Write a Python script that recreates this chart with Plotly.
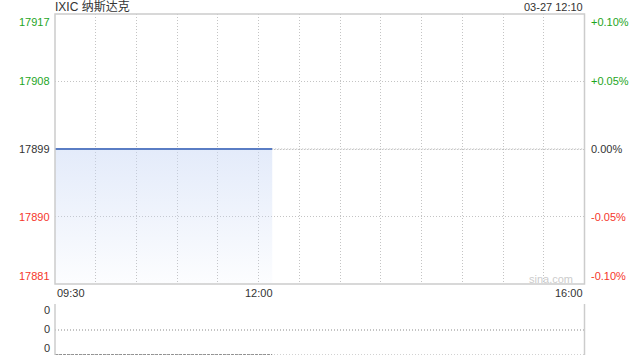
import plotly.graph_objects as go

# ---- data ----
title_text = "IXIC 纳斯达克"
stamp_text = "03-27 12:10"
prev_close = 17899
times = ["09:30", "10:00", "10:30", "11:00", "11:30", "12:00", "12:10"]
prices = [17899, 17899, 17899, 17899, 17899, 17899, 17899]
volumes = [0, 0, 0, 0, 0, 0, 0]
price_ticks = [17917, 17908, 17899, 17890, 17881]
pct_ticks = ["+0.10%", "+0.05%", "0.00%", "-0.05%", "-0.10%"]
x_labels = ["09:30", "12:00", "16:00"]
vol_ticks = ["0", "0", "0"]

def minutes(t):
    h, m = t.split(":")
    return (int(h) * 60 + int(m)) - (9 * 60 + 30)

xs = [minutes(t) for t in times]
x_lab_pos = [minutes(t) for t in x_labels]
END = minutes("16:00")

FONT = "Liberation Sans, Arial, Noto Sans CJK SC, sans-serif"
GREEN = "#1ea51e"
RED = "#f5362a"
DARK = "#333333"
GRID = "#c4c4c4"
GDASH = "1px,2px"

ymin, ymax = min(price_ticks), max(price_ticks)

fig = go.Figure()

# baseline for gradient fill
fig.add_trace(go.Scatter(x=[xs[0], xs[-1]], y=[ymin, ymin], mode="lines",
                         line=dict(width=0), hoverinfo="skip", showlegend=False,
                         xaxis="x", yaxis="y"))
fig.add_trace(go.Scatter(x=xs, y=prices, mode="lines", fill="tonexty",
                         fillgradient=dict(type="vertical", start=ymin, stop=prev_close,
                                           colorscale=[[0, "rgba(200,215,245,0.05)"],
                                                       [1, "rgba(200,215,245,0.5)"]]),
                         line=dict(color="#5a7dc4", width=2), showlegend=False,
                         xaxis="x", yaxis="y"))
# previous close dotted line
fig.add_trace(go.Scatter(x=[xs[-1], END], y=[prev_close, prev_close], mode="lines",
                         line=dict(color="#b0b0b0", width=1, dash=GDASH), showlegend=False,
                         hoverinfo="skip", xaxis="x", yaxis="y"))
# volume
fig.add_trace(go.Scatter(x=xs, y=volumes, mode="lines",
                         line=dict(color="#777777", width=1.5, dash="3px,1px"), showlegend=False,
                         xaxis="x2", yaxis="y2"))

X0, X1 = 55 / 640, 584.5 / 640
MAIN = [1 - 284 / 360, 1 - 14 / 360]
VOL = [1 - 355 / 360, 1 - 304 / 360]

fig.update_layout(
    width=640, height=360, autosize=False,
    margin=dict(l=0, r=0, t=0, b=0),
    paper_bgcolor="white", plot_bgcolor="white",
    font=dict(family=FONT, size=11, color=DARK),
    xaxis=dict(domain=[X0, X1], range=[0, END], tickvals=list(range(30, END, 30)),
               showticklabels=False, showgrid=True, gridcolor=GRID, griddash=GDASH,
               gridwidth=1, zeroline=False, showline=False, fixedrange=True),
    yaxis=dict(domain=MAIN, range=[ymin, ymax], tickvals=price_ticks[1:-1],
               showticklabels=False, showgrid=True, gridcolor=GRID, griddash=GDASH,
               zeroline=False, showline=False),
    xaxis2=dict(domain=[X0, X1], range=[0, END], showticklabels=False, showgrid=False,
                zeroline=False, anchor="y2"),
    yaxis2=dict(domain=VOL, range=[0, 1], tickvals=[0.5, 1.0], showticklabels=False,
                showgrid=True, gridcolor=GRID, griddash=GDASH, gridwidth=1.5,
                zeroline=False, anchor="x2"),
)

shapes = [
    dict(type="rect", xref="paper", yref="paper", x0=X0, x1=X1, y0=MAIN[0], y1=MAIN[1],
         line=dict(color="#cccccc", width=1.5)),
    dict(type="line", xref="paper", yref="paper", x0=X0, x1=X0, y0=VOL[0], y1=VOL[1],
         line=dict(color="#cccccc", width=1.5)),
    dict(type="line", xref="paper", yref="paper", x0=X1, x1=X1, y0=VOL[0], y1=VOL[1],
         line=dict(color="#cccccc", width=1.5)),
    dict(type="line", xref="x2", yref="y2", x0=0, x1=END, y0=0, y1=0,
         line=dict(color=GRID, width=1.5, dash=GDASH), layer="below"),
]
fig.update_layout(shapes=shapes)

ann = []
def color_for(i, n):
    mid = n // 2
    return GREEN if i < mid else (DARK if i == mid else RED)

n = len(price_ticks)
for i, (p, pct) in enumerate(zip(price_ticks, pct_ticks)):
    c = color_for(i, n)
    ya = "top" if i == 0 else ("bottom" if i == n - 1 else "middle")
    ann.append(dict(x=X0, xref="paper", y=p, yref="y", text=str(p), showarrow=False,
                    xanchor="right", yanchor=ya, xshift=-3, font=dict(color=c, size=11)))
    ann.append(dict(x=X1, xref="paper", y=p, yref="y", text=pct, showarrow=False,
                    xanchor="left", yanchor=ya, xshift=4, font=dict(color=c, size=11)))

anchors = ["left", "center", "right"]
for lab, pos, a in zip(x_labels, x_lab_pos, anchors):
    ann.append(dict(x=pos, xref="x", y=1 - 293 / 360, yref="paper", text=lab,
                    showarrow=False, xanchor=a, yanchor="middle",
                    font=dict(color=DARK, size=11)))

for lab, yv in zip(vol_ticks, [1 - 310 / 360, 1 - 329 / 360, 1 - 348 / 360]):
    ann.append(dict(x=X0, xref="paper", y=yv, yref="paper", text=lab, showarrow=False,
                    xanchor="right", yanchor="middle", xshift=-3,
                    font=dict(color=DARK, size=11)))

ann.append(dict(x=X0, xref="paper", y=1 - 7 / 360, yref="paper", text=title_text,
                showarrow=False, xanchor="left", yanchor="middle", xshift=-2,
                font=dict(color=DARK, size=12)))
ann.append(dict(x=X1, xref="paper", y=1 - 7 / 360, yref="paper", text=stamp_text,
                showarrow=False, xanchor="right", yanchor="middle",
                font=dict(color=DARK, size=11)))
ann.append(dict(x=X1, xref="paper", y=1 - 279 / 360, yref="paper", text="sina.com",
                showarrow=False, xanchor="right", yanchor="middle", xshift=-10,
                font=dict(color="#cccccc", size=11)))

fig.update_layout(annotations=ann)
fig.write_html("out.html")
